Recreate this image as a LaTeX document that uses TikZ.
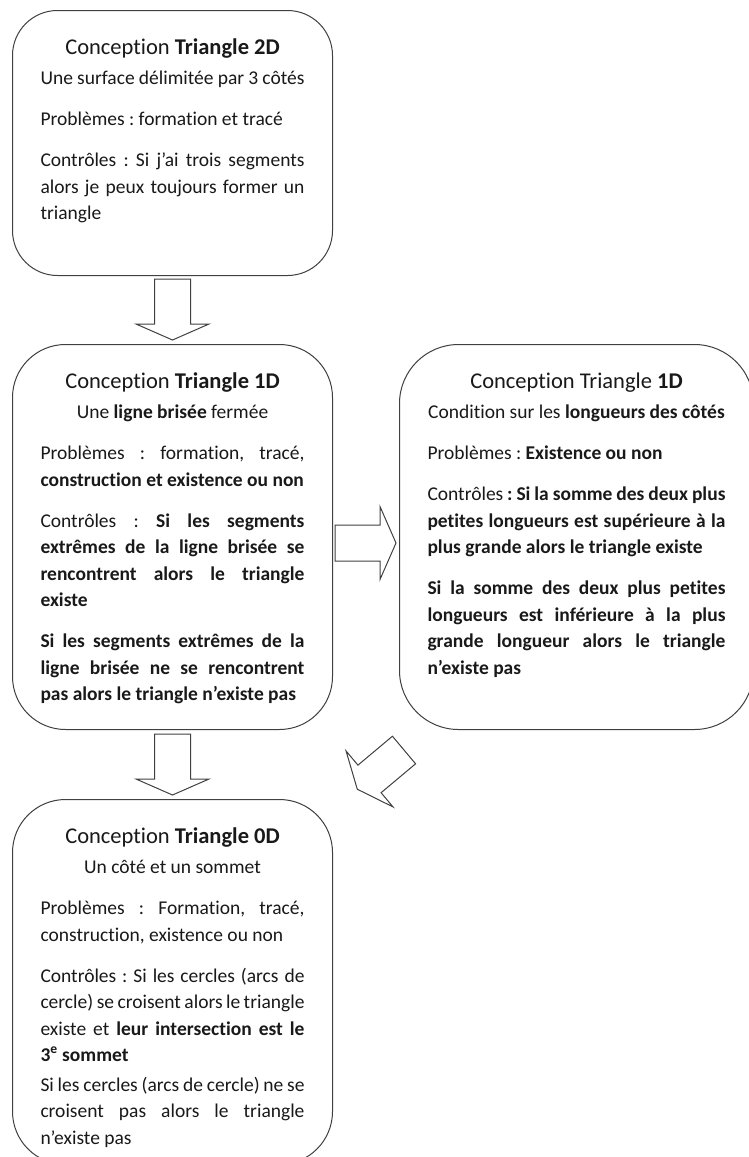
\documentclass[tikz,border=0pt]{standalone}
\usepackage{fontspec}
\setmainfont{Carlito}[Ligatures={NoCommon,NoContextual}]
\usetikzlibrary{positioning}

% text of one box: width, height, title, subtitle, body
\newcommand{\cardtext}[5]{%
  \parbox[c][#2][t]{#1}{%
    \setlength{\parskip}{0pt}\hyphenpenalty=10000 \emergencystretch=2em \frenchspacing
    {\centering\fontsize{22.5pt}{27pt}\selectfont\rule{0pt}{44pt}#3\par
     \fontsize{19.5pt}{30pt}\selectfont #4\par}
    \fontsize{19.5pt}{26.5pt}\selectfont\setlength{\parskip}{14.5pt}%
    #5\par}}

\begin{document}
\begin{tikzpicture}[
    card/.style={rectangle, draw=black!75, line width=1pt, fill=white,
                 rounded corners=#1, inner xsep=28pt, inner ysep=0pt, text=black!90},
    card/.default=53pt,
    arrowline/.style={draw=black!75, line width=1pt, fill=white, line join=miter},
    fatarrow/.pic={
        \draw[arrowline] (0,18pt) -- (45pt,18pt) -- (45pt,36.5pt) -- (61pt,0)
                         -- (45pt,-36.5pt) -- (45pt,-18pt) -- (0,-18pt) -- cycle;
    }
]

\useasboundingbox (0,0) rectangle (749pt,-1157pt);

\node[card=45pt, anchor=north west] (tri2d) at (12pt,-10pt)
    {\cardtext{264pt}{265pt}{Conception \textbf{Triangle 2D}}{Une surface délimitée par 3 côtés}
     {Problèmes : formation et tracé\par
      Contrôles : Si j’ai trois segments alors je peux toujours former un triangle}};

\node[card, below=68pt of tri2d] (tri1d)
    {\cardtext{264pt}{385pt}{Conception \textbf{Triangle 1D}}{Une \textbf{ligne brisée} fermée}
     {Problèmes : formation, tracé, \textbf{construction et existence ou non}\par
      Contrôles : \textbf{Si les segments extrêmes de la ligne brisée se rencontrent alors le triangle existe}\par
      \textbf{Si les segments extrêmes de la ligne brisée ne se rencontrent pas alors le triangle n’existe pas}}};

\node[card=59pt, right=66pt of tri1d] (lengths)
    {\cardtext{298pt}{385pt}{Conception Triangle \textbf{1D}}{Condition sur les \textbf{longueurs des côtés}}
     {Problèmes : \textbf{Existence ou non}\par
      Contrôles \textbf{: Si la somme des deux plus petites longueurs est supérieure à la plus grande alors le triangle existe}\par
      \textbf{Si la somme des deux plus petites longueurs est inférieure à la plus grande longueur alors le triangle n’existe pas}}};

\node[card, below=69pt of tri1d] (tri0d)
    {\cardtext{264pt}{365pt}{Conception \textbf{Triangle 0D}}{Un côté et un sommet}
     {Problèmes : Formation, tracé, construction, existence ou non\par
      Contrôles : Si les cercles (arcs de cercle) se croisent alors le triangle existe et
      \textbf{leur intersection est le 3\textsuperscript{e} sommet}\\[3pt]
      {\spaceskip=0.08em plus 0.5em\relax Si les cercles (arcs de cercle) ne se}\linebreak
      croisent pas alors le triangle n’existe pas}};

% block arrows between the boxes
\pic[rotate=-90] at ([yshift=-3pt]tri2d.south) {fatarrow};
\pic at ([xshift=2pt, yshift=-6pt]tri1d.east) {fatarrow};
\pic[rotate=-90] at ([yshift=-4pt]tri1d.south) {fatarrow};
\pic[rotate=220] at ([xshift=5pt, yshift=-20pt]lengths.south west) {fatarrow};

\end{tikzpicture}
\end{document}
